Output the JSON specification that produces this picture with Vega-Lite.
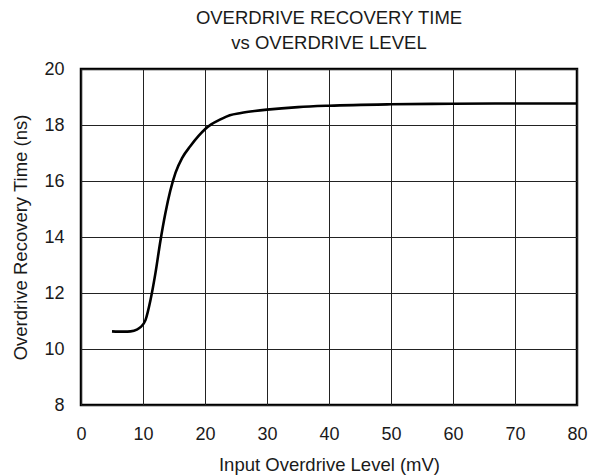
{
  "$schema": "https://vega.github.io/schema/vega-lite/v6.json",
  "width": 496,
  "height": 336,
  "autosize": {"type": "none"},
  "padding": {"left": 81, "top": 69, "right": 27, "bottom": 70},
  "background": "white",
  "config": {
    "font": "Liberation Sans",
    "view": {"stroke": "#000000", "strokeWidth": 2.5},
    "axis": {
      "grid": true,
      "gridColor": "#222222",
      "gridWidth": 1,
      "gridOpacity": 1,
      "domain": false,
      "ticks": false,
      "labelFont": "Liberation Sans",
      "labelFontSize": 18,
      "labelColor": "#1a1a1a",
      "titleFont": "Liberation Sans",
      "titleFontSize": 18.5,
      "titleFontWeight": "normal",
      "titleColor": "#1a1a1a"
    }
  },
  "title": {
    "text": ["OVERDRIVE RECOVERY TIME", "vs OVERDRIVE LEVEL"],
    "font": "Liberation Sans",
    "fontSize": 18.5,
    "fontWeight": "normal",
    "color": "#1a1a1a",
    "anchor": "middle",
    "frame": "group",
    "baseline": "bottom",
    "lineHeight": 25,
    "offset": -11
  },
  "data": {
    "values": [
      {"level": 5, "time": 10.63},
      {"level": 6, "time": 10.62},
      {"level": 7, "time": 10.62},
      {"level": 8, "time": 10.63},
      {"level": 9, "time": 10.69},
      {"level": 9.6, "time": 10.78},
      {"level": 10.4, "time": 11.03},
      {"level": 11.2, "time": 11.74},
      {"level": 12, "time": 12.7},
      {"level": 12.8, "time": 13.85},
      {"level": 13.6, "time": 14.84},
      {"level": 14.4, "time": 15.65},
      {"level": 15.25, "time": 16.3},
      {"level": 16.3, "time": 16.82},
      {"level": 17.65, "time": 17.25},
      {"level": 19, "time": 17.62},
      {"level": 20, "time": 17.85},
      {"level": 21, "time": 18.02},
      {"level": 22.5, "time": 18.2},
      {"level": 24, "time": 18.35},
      {"level": 25.8, "time": 18.43},
      {"level": 28, "time": 18.5},
      {"level": 30, "time": 18.55},
      {"level": 35, "time": 18.64},
      {"level": 40, "time": 18.69},
      {"level": 50, "time": 18.74},
      {"level": 60, "time": 18.76},
      {"level": 70, "time": 18.77},
      {"level": 80, "time": 18.77}
    ]
  },
  "mark": {"type": "line", "color": "#000000", "strokeWidth": 2.6, "interpolate": "monotone"},
  "encoding": {
    "x": {
      "field": "level",
      "type": "quantitative",
      "scale": {"domain": [0, 80], "nice": false},
      "axis": {
        "title": "Input Overdrive Level (mV)",
        "values": [0, 10, 20, 30, 40, 50, 60, 70, 80],
        "labelPadding": 20,
        "titlePadding": 12,
        "labelFlush": false
      }
    },
    "y": {
      "field": "time",
      "type": "quantitative",
      "scale": {"domain": [8, 20], "nice": false, "zero": false},
      "axis": {
        "title": "Overdrive Recovery Time (ns)",
        "values": [8, 10, 12, 14, 16, 18, 20],
        "labelPadding": 17,
        "titlePadding": 13,
        "labelFlush": false
      }
    }
  }
}
